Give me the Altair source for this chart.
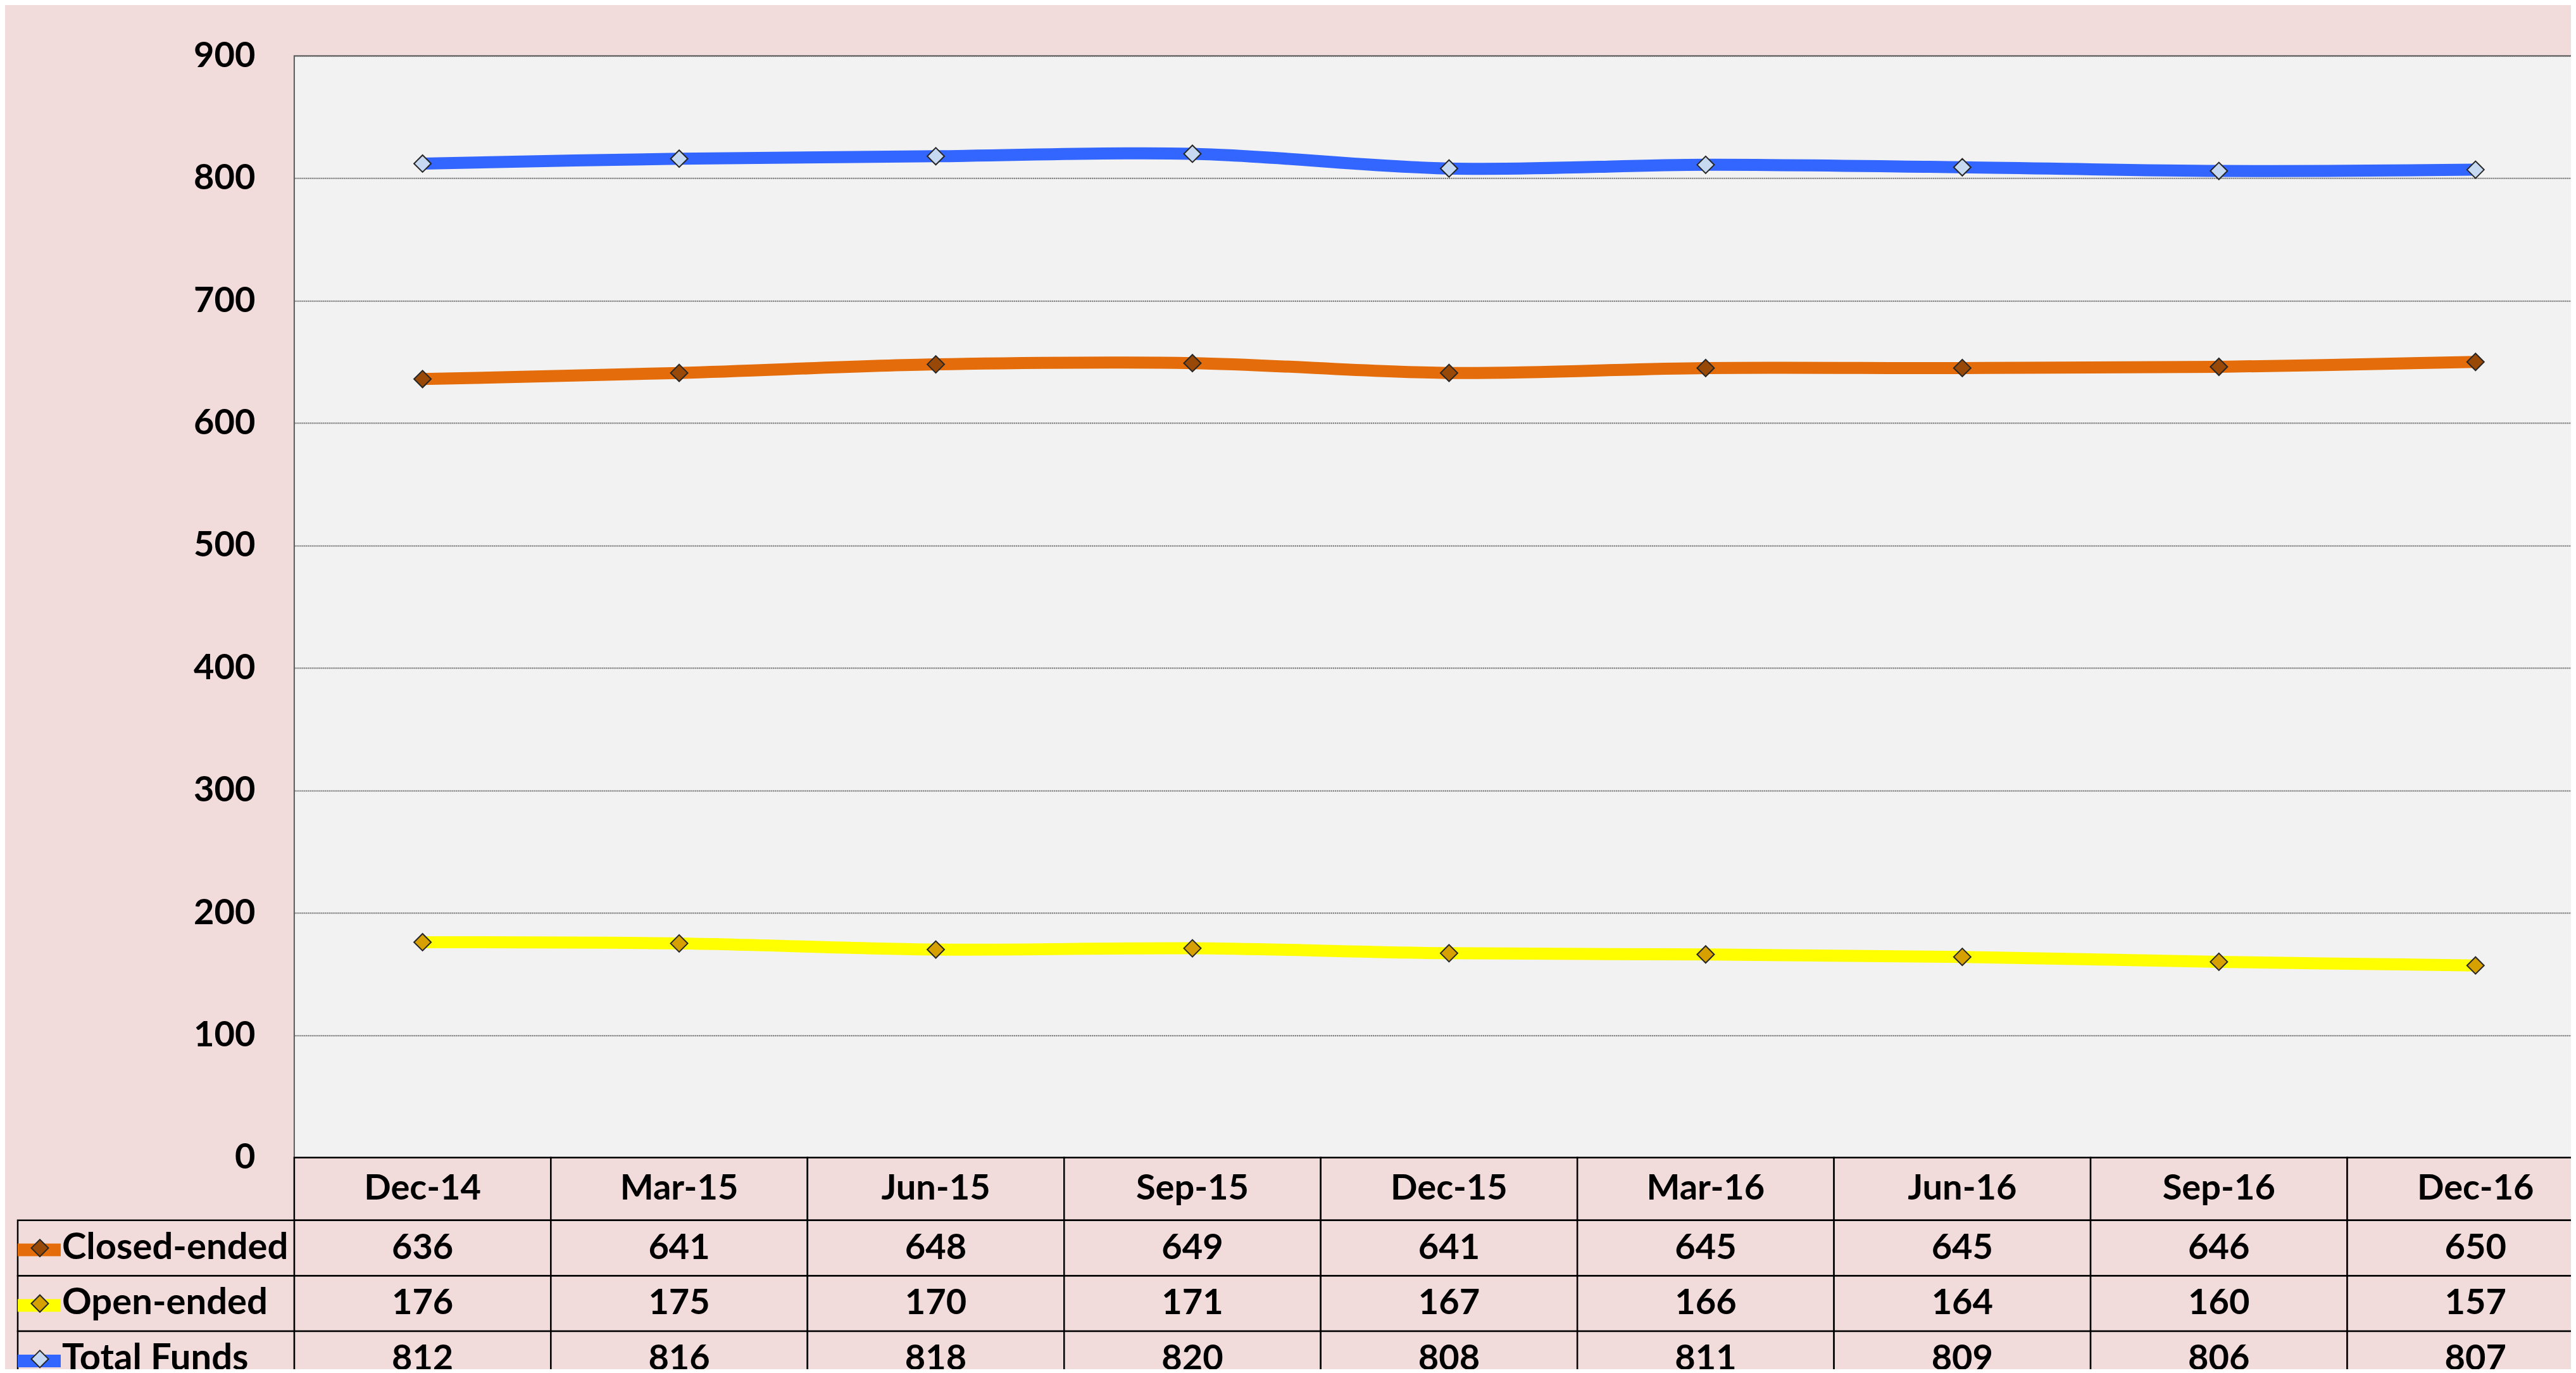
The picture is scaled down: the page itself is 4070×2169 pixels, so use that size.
import altair as alt
import pandas as pd

# ---- data ----
periods = ["Dec-14", "Mar-15", "Jun-15", "Sep-15", "Dec-15",
           "Mar-16", "Jun-16", "Sep-16", "Dec-16"]
series_names = ["Closed-ended", "Open-ended", "Total Funds"]
closed_ended = [636, 641, 648, 649, 641, 645, 645, 646, 650]
open_ended = [176, 175, 170, 171, 167, 166, 164, 160, 157]
total_funds = [812, 816, 818, 820, 808, 811, 809, 806, 807]
y_tick_values = [0, 100, 200, 300, 400, 500, 600, 700, 800, 900]

# ---- styles ----
line_colors = ["#E46C0A", "#FFFF00", "#3366FF"]
marker_fills = ["#984807", "#D6A000", "#C6D9F1"]
FONT = "Lato"
PINK = "#F2DCDB"
PLOT_BG = "#F2F2F2"
PLOT_W = 3650
ROW_H = 263 / 3.0

records = []
for name, vals in zip(series_names, [closed_ended, open_ended, total_funds]):
    for i, (p, v) in enumerate(zip(periods, vals)):
        records.append({"period": p, "series": name, "value": v, "idx": i})
df = pd.DataFrame(records)

header_df = pd.DataFrame({"period": periods})
table_df = pd.DataFrame({"period": df["period"], "row": df["series"],
                         "label": df["value"].astype(str)})
legend_df = pd.DataFrame({"row": series_names, "series": series_names, "key": series_names})

# ---- top plot ----
x_band = alt.Scale(type="band", domain=periods, paddingInner=0, paddingOuter=0)
x_top = alt.X("period:N", scale=x_band, bandPosition=0.5, axis=None)
top_y_axis = alt.Axis(values=y_tick_values, title=None, ticks=False, domain=False,
                      labelPadding=62, labelFont=FONT, labelFontSize=56,
                      labelFontWeight="bold", labelColor="#000000",
                      grid=True, gridColor="#6E6E6E", gridWidth=2, gridDash=[2, 1])
y_val = alt.Y("value:Q", scale=alt.Scale(domain=[0, 900], nice=False), axis=top_y_axis)

lines = alt.Chart(df).mark_line(interpolate="cardinal", strokeWidth=19).encode(
    x=x_top, y=y_val,
    color=alt.Color("series:N", scale=alt.Scale(domain=series_names, range=line_colors), legend=None),
    order=alt.Order("idx:Q"),
)
points = alt.Chart(df).mark_point(shape="diamond", filled=True, size=729, stroke="#262626",
                                  strokeWidth=2, opacity=1).encode(
    x=x_top, y=alt.Y("value:Q"),
    fill=alt.Fill("series:N", scale=alt.Scale(domain=series_names, range=marker_fills), legend=None),
)
plot = alt.layer(lines, points).properties(
    width=PLOT_W, height=1741,
    view=alt.ViewBackground(fill=PLOT_BG, stroke="#595959", strokeWidth=2),
)

# ---- data table: header row ----
x_tab = alt.X("period:N", scale=x_band, axis=None)
x_tab_c = alt.X("period:N", scale=x_band, axis=None, bandPosition=0.5)

header_cells = alt.Chart(header_df).mark_rect(fill=PINK, stroke="#000000", strokeWidth=2.5).encode(
    x=x_tab)
header_text = alt.Chart(header_df).mark_text(font=FONT, fontSize=56, fontWeight="bold",
                                             color="#000000", align="center",
                                             baseline="middle").encode(
    x=x_tab_c, text="period:N")
header = alt.layer(header_cells, header_text).properties(
    width=PLOT_W, height=99,
    view=alt.ViewBackground(fill="transparent", stroke="transparent"),
)

# ---- data table: series rows ----
y_tab_scale = alt.Scale(type="band", domain=series_names, paddingInner=0, paddingOuter=0)
y_tab = alt.Y("row:N", scale=y_tab_scale, axis=None)
y_tab_c = alt.Y("row:N", scale=y_tab_scale, axis=None, bandPosition=0.5)

carrier_lines = alt.Chart(legend_df).mark_point(filled=False, size=0, opacity=1).encode(
    x=alt.value(-200), y=y_tab_c,
    stroke=alt.Stroke("series:N", scale=alt.Scale(domain=series_names, range=line_colors),
                      legend=alt.Legend(title=None, orient="none", legendX=-447,
                                        legendY=ROW_H / 2 - 41,
                                        padding=0, symbolType="stroke", symbolSize=4624,
                                        symbolStrokeWidth=20, symbolOpacity=1,
                                        labelFontSize=56, labelFont=FONT, labelFontWeight="bold",
                                        labelExpr="''", labelLimit=1000,
                                        rowPadding=ROW_H - 84, zindex=1)),
)
carrier_marks = alt.Chart(legend_df).mark_point(filled=True, size=0, opacity=1, stroke="#262626",
                                                strokeWidth=2).encode(
    x=alt.value(-200), y=y_tab_c,
    fill=alt.Fill("key:N", scale=alt.Scale(range=marker_fills),
                  legend=alt.Legend(title=None, orient="none", legendX=-431,
                                    legendY=ROW_H / 2 - 29,
                                    padding=0, symbolType="diamond", symbolSize=729,
                                    symbolStrokeColor="#262626", symbolStrokeWidth=2, symbolOpacity=1,
                                    labelFontSize=58, labelFont=FONT, labelFontWeight="bold",
                                    labelColor="#000000", labelLimit=1000, labelOffset=6,
                                    rowPadding=ROW_H - 58, zindex=2)),
)
cells = alt.Chart(table_df).mark_rect(fill=PINK, stroke="#000000", strokeWidth=2.5).encode(
    x=x_tab, y=y_tab)
legend_cells = alt.Chart(legend_df).mark_rect(fill=PINK, stroke="#000000", strokeWidth=2.5).encode(
    x=alt.value(-437), x2=alt.value(0), y=y_tab)
texts = alt.Chart(table_df).mark_text(font=FONT, fontSize=56, fontWeight="bold", color="#000000",
                                      align="center", baseline="middle").encode(
    x=x_tab_c, y=y_tab_c, text="label:N")

table = alt.layer(carrier_lines, carrier_marks, cells, legend_cells, texts).properties(
    width=PLOT_W, height=263,
    view=alt.ViewBackground(fill="transparent", stroke="transparent"),
)

chart = alt.vconcat(plot, header, table, spacing=0, bounds="flush").resolve_scale(
    x="independent", y="independent", color="independent", fill="independent", stroke="independent"
).resolve_legend(color="independent", fill="independent", stroke="independent").properties(
    padding={"left": 9, "top": 51, "right": -54, "bottom": -30},
    background=PINK,
).configure(font=FONT)

chart.save("out.html", embed_options={"renderer": "svg", "actions": False})
